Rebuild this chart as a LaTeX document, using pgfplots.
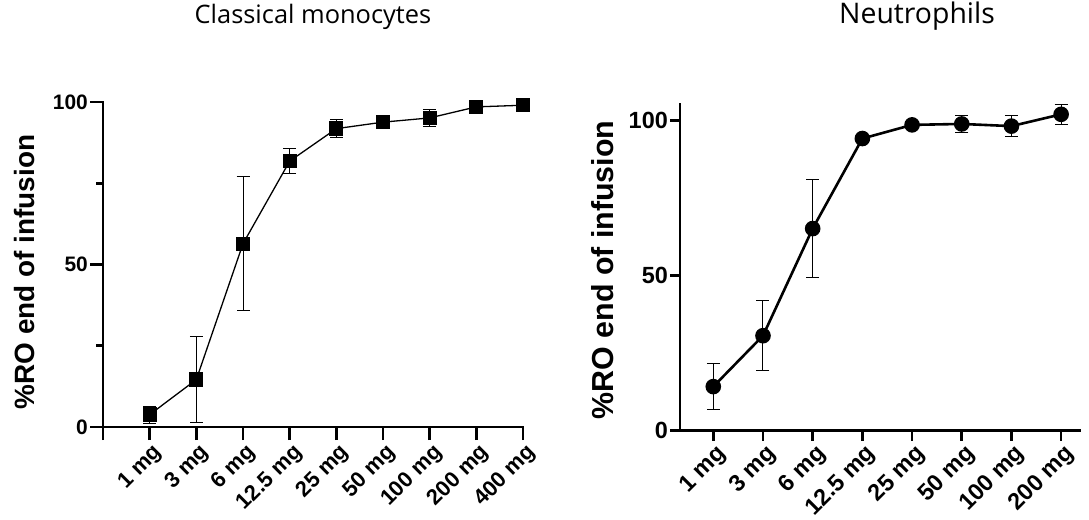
\documentclass[border=0pt]{standalone}
\usepackage{fontspec}
\setmainfont{Liberation Sans}
\newfontfamily\titlefont{Open Sans}
\usepackage{pgfplots}
\pgfplotsset{compat=1.18}
\pgfplotstableread{
x y e
1 3.8 2.6
2 14.6 13.1
3 56.4 20.6
4 81.8 3.9
5 91.8 2.8
6 93.8 1.0
7 95.1 2.5
8 98.5 1.0
9 99.0 0.6
}\mono
\pgfplotstableread{
x y e
1 14.2 7.3
2 30.6 11.2
3 65.1 15.7
4 94.1 0.8
5 98.5 1.0
6 98.8 2.8
7 98.1 3.4
8 101.9 3.3
}\neut
\newcommand{\myLeftTickFont}{\fontsize{22}{26}\selectfont\bfseries}
\newcommand{\myLeftYTickFont}{\fontsize{21}{25}\selectfont\bfseries}
\newcommand{\myRightTickFont}{\fontsize{23.5}{27}\selectfont\bfseries}
\begin{document}
\begin{tikzpicture}
\useasboundingbox (0,0) rectangle (1089bp,520bp);
\pgfplotsset{
  base/.style={
    scale only axis,
    axis x line=bottom, axis y line=left,
    axis line style={line width=2.6bp,-,line cap=rect},
    x axis line style={-}, y axis line style={-},
    tick align=outside,
    every tick/.style={black, line width=2.6bp},
    /pgf/number format/assume math mode=true,
    xticklabel style={rotate=45, anchor=north east, inner sep=0pt, yshift=-3bp},
    yticklabel style={inner sep=2bp},
    clip=false,
    title style={anchor=base},
    ylabel style={anchor=center},
  }
}
\begin{axis}[base,
  at={(103bp,93bp)}, anchor=south west,
  width=420bp, height=325bp,
  xmin=0, xmax=9, ymin=0, ymax=100,
  xtick={0,...,9},
  xticklabels={,{\myLeftTickFont 1 mg},{\myLeftTickFont 3 mg},{\myLeftTickFont 6 mg},{\myLeftTickFont 12.5 mg},{\myLeftTickFont 25 mg},{\myLeftTickFont 50 mg},{\myLeftTickFont 100 mg},{\myLeftTickFont 200 mg},{\myLeftTickFont 400 mg}},
  ytick={0,50,100}, minor ytick={25,75},
  yticklabel={\myLeftYTickFont\pgfmathprintnumber{\tick}},
  major tick length=13bp, minor tick length=7bp,
  every minor tick/.style={black, line width=2.6bp},
  title={\titlefont\fontsize{25.5}{30}\selectfont Classical monocytes},
  title style={at={(rel axis cs:0.5,1.2246)}},
  ylabel={\fontsize{28}{32}\selectfont\bfseries \%RO end of infusion},
  ylabel style={at={(rel axis cs:-0.188,0.477)}},
]
\addplot[black, line width=1.3bp, mark=square*, mark size=6.5bp,
  error bars/.cd, y dir=both, y explicit,
  error bar style={line width=1bp, black},
  error mark options={rotate=90, mark size=6.5bp, line width=1bp, black}]
  table[x=x, y=y, y error=e] {\mono};
\end{axis}
\begin{axis}[base,
  at={(680bp,89.3bp)}, anchor=south west,
  width=400bp, height=326bp,
  xmin=0.33, xmax=8.38, ymin=0, ymax=105,
  xtick={1,...,8},
  xticklabels={{\myRightTickFont 1 mg},{\myRightTickFont 3 mg},{\myRightTickFont 6 mg},{\myRightTickFont 12.5 mg},{\myRightTickFont 25 mg},{\myRightTickFont 50 mg},{\myRightTickFont 100 mg},{\myRightTickFont 200 mg}},
  ytick={0,50,100},
  yticklabel={\myRightTickFont\pgfmathprintnumber{\tick}},
  major tick length=10bp,
  title={\titlefont\fontsize{28.5}{33}\selectfont Neutrophils},
  title style={at={(rel axis cs:0.5925,1.2316)}},
  ylabel={\fontsize{30.5}{34}\selectfont\bfseries \%RO end of infusion},
  ylabel style={at={(rel axis cs:-0.1925,0.493)}},
]
\addplot[black, line width=2.6bp, mark=*, mark size=6.5bp,
  error bars/.cd, y dir=both, y explicit,
  error bar style={line width=1bp, black},
  error mark options={rotate=90, mark size=6.5bp, line width=1bp, black}]
  table[x=x, y=y, y error=e] {\neut};
\end{axis}
\end{tikzpicture}
\end{document}
